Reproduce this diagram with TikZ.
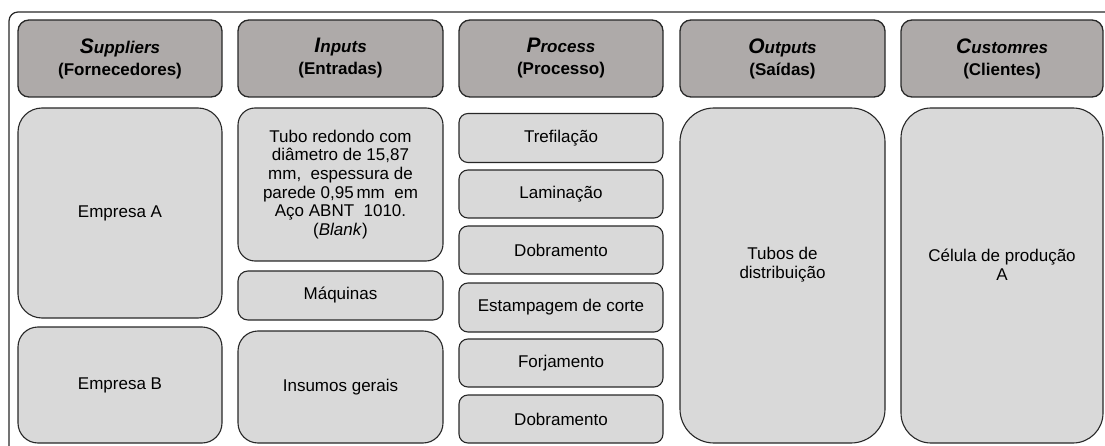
\documentclass[tikz,border=0pt]{standalone}
\usepackage{fontspec}
\setmainfont{Liberation Sans}
\definecolor{hdrfill}{RGB}{174,170,169}
\definecolor{boxfill}{RGB}{217,217,217}
\definecolor{edge}{RGB}{40,40,40}
\tikzset{
  hdr/.style={draw=edge, fill=hdrfill, line width=1.3pt, rounded corners=11pt,
    inner sep=0pt, align=center, font=\fontsize{17}{22}\selectfont},
  cell/.style={draw=edge, fill=boxfill, line width=1.1pt,
    inner sep=0pt, align=center, font=\fontsize{17}{18.7}\selectfont},
  txt/.style={inner sep=0pt, align=center, font=\fontsize{17}{19}\selectfont},
}
\newcommand{\hd}[3]{\textbf{\textit{\fontsize{21}{22}\selectfont #1}\textit{#2}}\\\textbf{#3}}
\begin{document}
\begin{tikzpicture}[x=1pt,y=-1pt]
\useasboundingbox (0,0) rectangle (1105,446);
\fill[white] (0,0) rectangle (1105,446);
% outer frame
\draw[edge, line width=1.2pt, rounded corners=9pt] (9,447) -- (9,12) -- (1106,12);
% headers
\node[hdr, minimum width=204pt, minimum height=77pt] (hs) at (120,58.5) {\hd{S}{uppliers}{(Fornecedores)}};
\node[hdr, minimum width=205pt, minimum height=77pt] (hi) at (340.5,58.5) {\hd{I}{nputs}{(Entradas)}};
\node[hdr, minimum width=204pt, minimum height=77pt] (hp) at (561,58.5) {\hd{P}{rocess}{(Processo)}};
\node[hdr, minimum width=205pt, minimum height=77pt] (ho) at (782.5,58.5) {\hd{O}{utputs}{(Saídas)}};
\node[hdr, minimum width=202pt, minimum height=77pt] (hc) at (1002,58.5) {\hd{C}{ustomres}{(Clientes)}};
% suppliers
\node[cell, rounded corners=24pt, minimum width=204pt, minimum height=210pt] (ea) at (120,213) {Empresa A};
\node[cell, rounded corners=20pt, minimum width=204pt, minimum height=116pt] (eb) at (120,385) {Empresa B};
% inputs
\node[cell, rounded corners=17pt, minimum width=205pt, minimum height=153pt] (tubo) at (340.5,184.5)
  {Tubo redondo com\\diâmetro de 15,87\\mm,\ \ espessura de\\parede 0,95\,mm\ \ em\\Aço ABNT\ \ 1010.\\(\textit{Blank})};
\node[cell, rounded corners=10pt, minimum width=205pt, minimum height=49pt] (maq) at (340.5,295.5) {Máquinas};
\node[cell, rounded corners=20pt, minimum width=205pt, minimum height=112pt] (ins) at (340.5,387) {Insumos gerais};
% process
\node[cell, rounded corners=9pt, minimum width=204pt, minimum height=49pt] (p1) at (561,138) {Trefilação};
\node[cell, rounded corners=9pt, minimum width=204pt, minimum height=48pt] (p2) at (561,194) {Laminação};
\node[cell, rounded corners=9pt, minimum width=204pt, minimum height=48pt] (p3) at (561,250) {Dobramento};
\node[cell, rounded corners=9pt, minimum width=204pt, minimum height=49pt] (p4) at (561,307.5) {Estampagem de corte};
\node[cell, rounded corners=9pt, minimum width=204pt, minimum height=48pt] (p5) at (561,363) {Forjamento};
\node[cell, rounded corners=9pt, minimum width=204pt, minimum height=48pt] (p6) at (561,419) {Dobramento};
% outputs
\node[cell, rounded corners=34pt, minimum width=205pt, minimum height=335pt] (out) at (782.5,275.5) {};
\node[txt] (outt) at (782.5,265) {Tubos de\\distribuição};
% customers
\node[cell, rounded corners=30pt, minimum width=202pt, minimum height=335pt] (cus) at (1002,275.5) {};
\node[txt] (cust) at (1002,265) {Célula de produção\\A};
\end{tikzpicture}
\end{document}
